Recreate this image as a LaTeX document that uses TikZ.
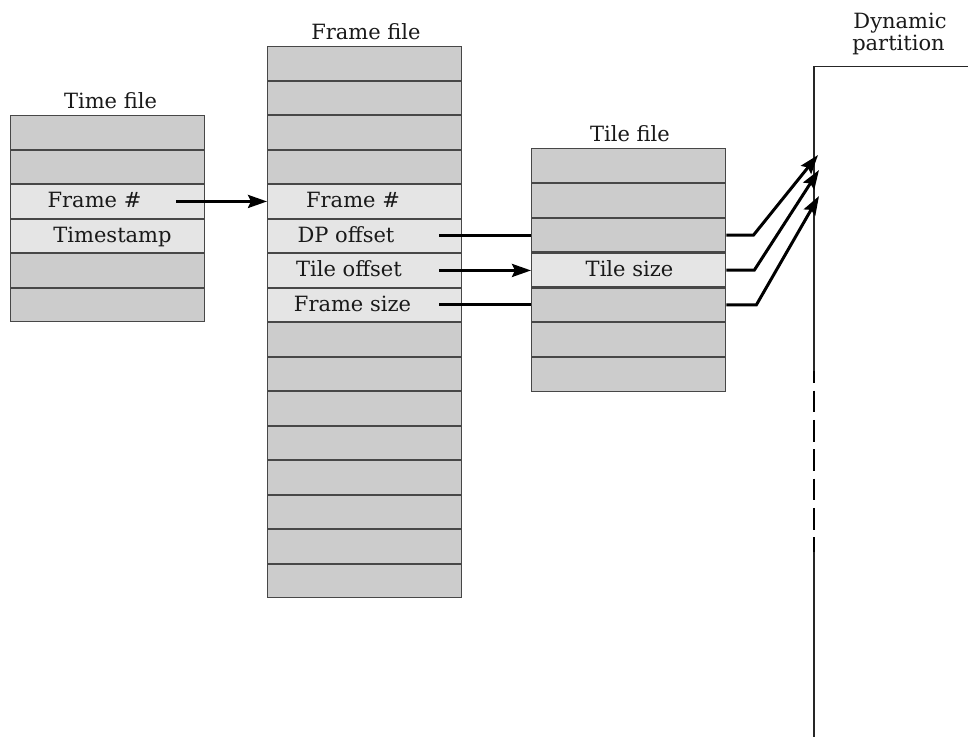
\documentclass[tikz,border=0pt]{standalone}
\usepackage{fontspec}
\setmainfont{DejaVu Serif}
\usetikzlibrary{arrows.meta}

\begin{document}
\begin{tikzpicture}[x=1pt,y=-1pt,
  cell/.style={draw=black!72, line width=1.4pt, minimum width=194pt,
    minimum height=33.5pt, inner sep=0pt, anchor=north west},
  darkcell/.style={cell, fill=black!20},
  lightcell/.style={cell, fill=black!10},
  txt/.style={font=\fontsize{21}{24}\selectfont, text=black!90, inner sep=0pt, anchor=base},
  link/.style={line width=3pt},
  tip/.style={-{Stealth[length=19pt,width=13pt,inset=3pt]}},
  partline/.style={draw=black!85, line width=1.5pt}
]
\useasboundingbox (0,0) rectangle (968,737);

% Time file
\foreach \i/\s in {1/darkcell,2/darkcell,3/lightcell,4/lightcell,5/darkcell,6/darkcell}
  \node[\s] (t\i) at (10, {115+34.5*(\i-1)}) {};
\node[txt] (ttitle) at (110.5,108) {Time file};
\node[txt] (t3txt) at (94.5,207.7) {Frame \#};
\node[txt] (t4txt) at (112.5,242.3) {Timestamp};

% Frame file
\foreach \i in {1,...,16}
  \node[darkcell] (f\i) at (267, {46+34.5*(\i-1)}) {};
\foreach \i in {5,...,8}
  \node[lightcell] at (f\i.north west) {};
\node[txt] (ftitle) at (366,39) {Frame file};
\node[txt] (f5txt) at (353,207.7) {Frame \#};
\node[txt] (f6txt) at (346,242.3) {DP offset};
\node[txt] (f7txt) at (349,276.8) {Tile offset};
\node[txt] (f8txt) at (352.5,311.3) {Frame size};

% Tile file
\foreach \i/\s in {1/darkcell,2/darkcell,3/darkcell,4/lightcell,5/darkcell,6/darkcell,7/darkcell}
  \node[\s, minimum height=33.8pt] (s\i) at (531, {148+34.8*(\i-1)}) {};
\node[txt] (stitle) at (630,141) {Tile file};
\node[txt] (s4txt) at (629.5,276.5) {Tile size};

% Dynamic partition
\node[txt] (dp1) at (900,28) {Dynamic};
\node[txt] (dp2) at (898.5,50) {partition};
\coordinate (ptop) at (814,66.5);
\coordinate (pright) at (968,66.5);
\coordinate (pdash1) at (814,371);
\coordinate (pdash2) at (814,552);
\coordinate (pbot) at (814,737);
\draw[partline] (pright) -- (ptop) -- (pdash1);
\draw[black, line width=1.2pt, dash pattern=on 21.7pt off 7.6pt, dash phase=9.7pt]
  (pdash1) -- (pdash2);
\draw[partline] (pdash2) -- (pbot);

% Links between the files
\draw[link,tip] ([xshift=-29pt]t3.east) -- (f5.west);
\draw[link] ([xshift=-23pt]f6.east) -- (f6.east -| s3.west);
\draw[link,tip] ([xshift=-23pt]f7.east) -- (f7.east -| s4.west);
\draw[link] ([xshift=-23pt]f8.east) -- (f8.east -| s5.west);

% Links into the dynamic partition
\coordinate (p1) at (818,155);
\coordinate (p2) at (819,170);
\coordinate (p3) at (819,196);
\draw[link,tip] (s3.east) -- ++(27,0) -- (p1);
\draw[link,tip] (s4.east) -- ++(28,0) -- (p2);
\draw[link,tip] (s5.east) -- ++(30,0) -- (p3);
\end{tikzpicture}
\end{document}
